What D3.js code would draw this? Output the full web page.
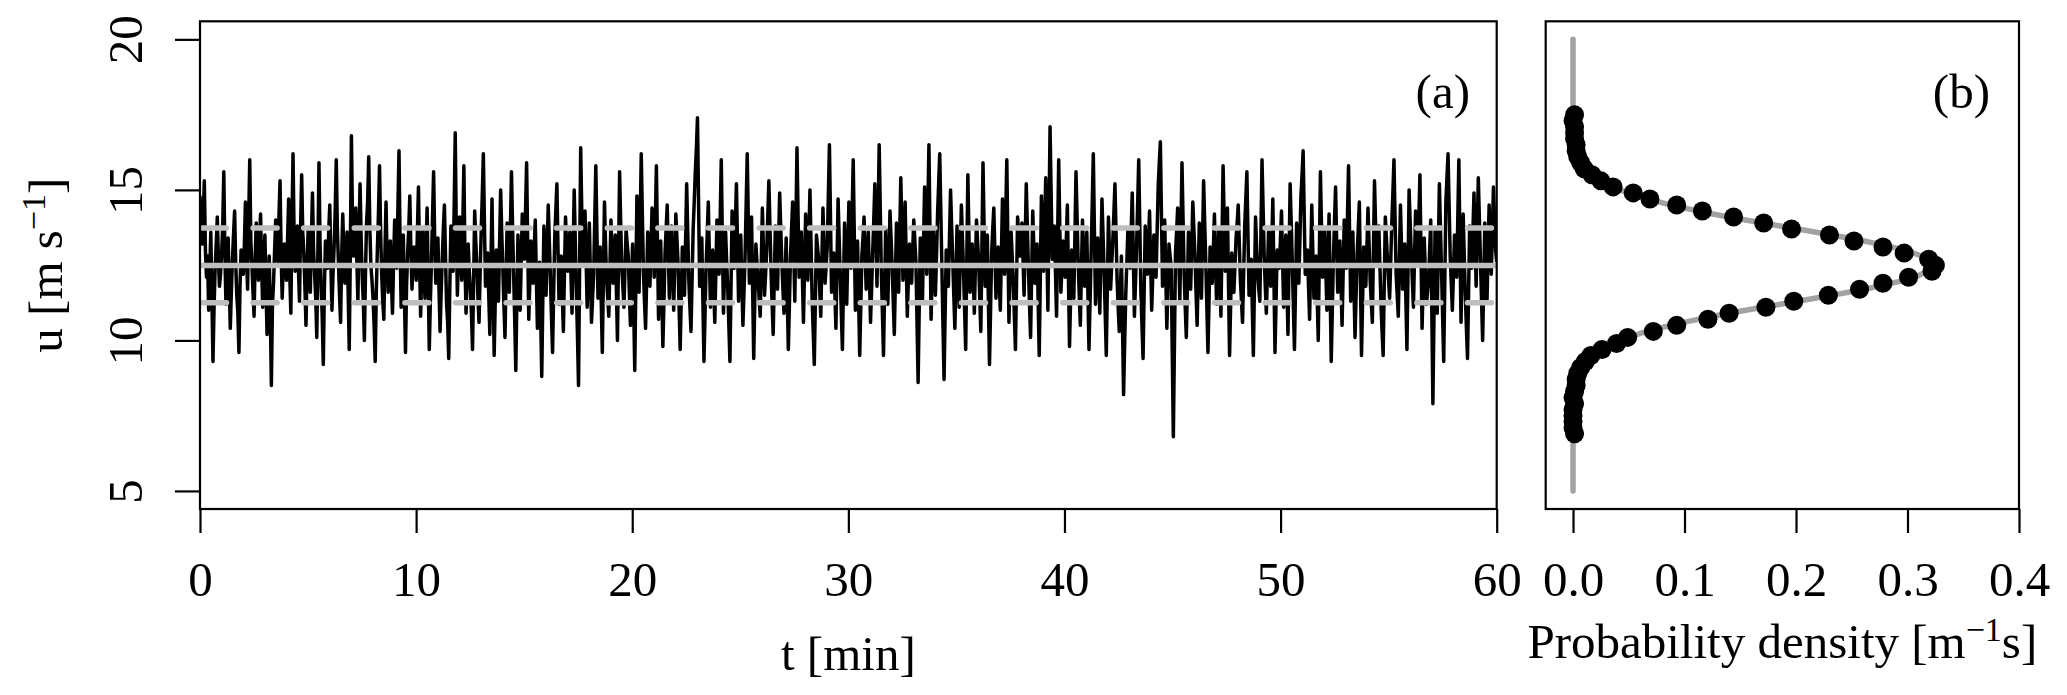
<!DOCTYPE html>
<html><head><meta charset="utf-8">
<script src="https://cdn.jsdelivr.net/npm/d3@7/dist/d3.min.js"></script>
<style>
body{margin:0;background:#fff}
svg text{font-family:"Liberation Serif","Times New Roman",serif;font-size:49px;fill:#000}
</style>
</head><body>
<svg id="chart" width="2067" height="695"></svg>
<script>
// ---- data ----
// wind speed u [m/s], 20 samples per minute, 0..60 min
const speed = [
14.8,13.9,13.2,14.1,15.3,13.0,12.1,12.8,11.0,12.3,13.6,11.4,9.3,11.1,12.4,13.2,14.1,12.7,11.8,12.2,
12.9,13.8,15.6,12.9,11.2,12.4,13.4,11.9,10.4,11.6,12.7,13.5,14.3,12.6,11.5,10.9,9.6,11.8,13.0,12.5,
12.2,13.1,14.6,12.8,11.7,14.0,16.0,13.3,12.5,11.6,10.8,12.7,13.9,12.9,12.0,13.3,14.2,12.4,11.1,12.6,
13.5,11.8,10.2,11.5,12.8,10.9,8.5,11.2,11.9,13.0,14.0,13.2,12.6,14.1,15.3,12.9,11.4,12.5,13.2,12.8,
12.0,13.4,14.7,12.2,10.9,13.8,16.2,13.5,12.3,12.9,13.8,12.4,11.3,13.7,15.5,13.6,12.9,11.8,10.5,12.3,
13.7,12.5,11.6,13.4,14.9,13.0,12.2,11.4,10.1,12.9,15.9,13.2,11.8,10.8,9.2,11.7,13.3,12.8,12.4,13.6,
14.5,12.6,11.0,12.2,13.1,14.3,16.0,13.7,12.6,11.5,10.6,12.8,14.2,12.9,11.9,12.7,13.6,11.6,9.7,12.9,
16.8,14.0,12.8,13.5,14.4,12.7,11.3,13.6,15.2,13.4,12.1,11.3,10.0,12.2,13.9,14.6,16.1,13.8,12.5,12.0,
11.4,10.5,9.3,11.6,13.0,14.2,15.8,13.6,12.2,11.3,10.7,12.9,14.6,12.8,11.6,12.5,13.3,11.9,10.9,12.6,
14.0,13.1,12.4,14.4,16.3,13.2,11.1,12.4,13.5,11.5,9.6,11.8,12.9,13.7,14.8,13.0,11.7,12.6,13.1,12.5,
12.0,13.6,15.1,12.7,10.8,12.3,13.7,12.5,11.4,13.0,14.4,12.0,9.7,11.3,12.6,14.1,15.6,13.4,11.9,12.8,
13.4,11.7,10.3,11.6,12.7,13.7,14.5,12.8,11.2,10.6,9.4,11.8,13.8,12.9,12.3,14.4,16.9,13.6,11.5,12.9,
14.1,13.0,12.0,13.9,15.8,12.6,10.9,12.1,13.2,12.3,11.7,10.9,9.7,12.0,14.3,13.3,12.5,11.4,10.6,12.2,
13.6,14.8,16.2,13.9,11.8,12.4,12.9,11.5,10.2,12.5,14.7,12.0,9.5,11.3,13.0,12.1,11.3,13.2,15.0,13.6,
12.4,11.2,10.1,12.1,13.9,12.7,11.6,13.7,15.6,13.8,12.2,10.7,9.0,11.4,13.5,12.2,11.0,12.6,14.2,13.4,
12.7,14.3,15.9,13.2,10.7,12.0,13.3,12.6,11.9,13.0,14.0,12.1,10.4,11.5,12.6,10.8,8.8,11.4,13.8,12.6,
11.5,13.0,14.5,13.3,12.1,10.8,9.6,11.6,13.4,14.3,15.2,13.1,11.2,12.0,12.8,11.5,10.3,12.3,14.1,13.1,
12.3,12.9,13.6,12.2,10.9,13.0,15.0,13.3,11.7,10.2,8.5,12.4,16.4,14.3,12.5,13.4,14.3,12.7,11.1,12.5,
13.9,12.2,10.6,11.4,12.2,14.0,15.8,13.6,11.4,12.3,13.1,11.3,9.6,12.1,14.6,13.2,12.0,11.4,10.8,12.4,
14.0,12.9,11.9,12.7,13.5,11.7,10.0,12.8,15.6,13.9,12.4,11.8,11.1,12.4,13.7,13.2,12.8,11.6,10.5,11.9,
13.2,11.1,9.0,11.9,14.8,13.2,11.6,13.9,16.2,14.2,12.3,11.3,10.4,12.0,13.6,12.7,11.8,13.1,14.4,13.2,
12.1,13.9,15.8,13.2,10.7,12.0,13.3,11.5,9.8,11.3,12.9,13.7,14.5,12.9,11.4,12.6,13.8,12.4,11.0,12.6,
14.2,13.4,12.6,11.1,9.7,11.4,13.1,12.3,11.5,13.3,15.2,13.6,12.0,11.1,10.3,12.0,13.7,14.6,15.6,16.4,
17.4,14.6,11.8,12.6,13.4,11.3,9.3,10.9,12.5,13.5,14.6,12.8,11.1,12.0,13.0,11.8,10.6,12.3,14.0,13.1,
12.2,14.1,16.0,13.4,10.9,12.2,13.6,12.6,11.7,10.5,9.3,11.8,14.3,13.3,12.4,13.8,15.2,13.2,11.3,12.4,
13.5,12.0,10.5,11.6,12.8,14.5,16.2,14.0,11.9,13.0,14.1,11.7,9.4,11.3,13.2,12.6,12.0,11.4,10.8,12.6,
14.4,13.0,11.5,12.2,13.0,14.1,15.3,13.8,12.3,11.2,10.2,12.0,13.8,12.7,11.7,13.3,14.9,13.7,12.6,11.7,
10.9,12.1,13.4,11.5,9.7,11.2,12.8,13.7,14.6,12.9,11.3,13.8,16.4,14.2,12.1,12.8,13.6,12.1,10.6,12.4,
14.2,13.1,12.0,13.5,15.0,13.2,11.4,10.3,9.2,11.3,13.5,13.1,12.7,11.7,10.8,12.6,14.4,13.1,11.9,12.5,
13.1,14.8,16.5,14.0,11.6,12.2,12.9,11.6,10.4,12.5,14.7,13.4,12.2,10.9,9.7,11.8,13.9,12.5,11.2,12.9,
14.6,13.5,12.4,14.2,16.0,13.5,11.0,12.1,13.3,11.4,9.5,11.1,12.8,13.4,14.1,12.9,11.7,12.6,13.6,12.1,
10.6,11.7,12.9,14.0,15.2,13.5,11.8,14.1,16.5,14.4,12.3,10.9,9.5,11.6,13.7,12.4,11.2,12.7,14.3,13.4,
12.5,11.3,10.2,12.0,13.9,12.7,11.6,13.5,15.4,13.7,12.0,13.3,14.6,12.7,10.8,12.0,13.2,12.5,11.9,13.0,
14.0,13.3,12.6,10.6,8.6,11.0,13.4,12.3,11.3,13.2,15.1,13.6,12.2,14.3,16.5,13.6,10.7,12.2,13.7,12.6,
11.5,12.8,14.2,15.2,16.2,14.3,12.4,10.5,8.7,10.9,13.0,12.4,11.8,13.4,15.0,13.8,12.7,11.5,10.4,12.1,
13.8,12.4,11.1,12.8,14.5,13.4,12.3,11.0,9.7,12.6,15.5,13.5,11.6,12.4,13.2,12.0,10.9,12.5,14.0,13.3,
12.6,11.4,10.3,13.1,15.9,13.8,11.8,12.6,13.5,11.3,9.2,11.0,12.9,13.7,14.4,12.9,11.4,12.3,13.1,12.0,
11.0,12.8,14.7,13.4,12.2,14.1,16.0,13.3,10.6,12.1,13.6,12.8,12.0,10.8,9.7,11.9,14.1,13.5,12.8,13.3,
13.9,12.7,11.5,13.3,15.2,13.8,12.4,11.2,10.1,12.2,14.3,13.1,11.9,12.5,13.2,11.3,9.5,12.1,14.8,13.5,
12.3,13.8,15.4,13.2,11.0,14.0,17.1,14.9,12.7,13.2,13.8,12.3,10.8,13.4,16.0,13.8,11.6,12.4,13.3,12.7,
12.1,13.3,14.5,12.1,9.8,11.4,13.0,12.2,11.4,13.5,15.6,14.1,12.6,11.5,10.5,12.3,14.0,12.9,11.8,12.7,
13.6,11.6,9.7,11.3,12.9,14.5,16.2,13.7,11.2,12.3,13.4,12.1,10.9,12.8,14.7,13.5,12.3,10.9,9.5,11.8,
14.1,12.9,11.7,12.5,13.3,14.2,15.2,13.6,12.0,11.1,10.3,11.6,12.8,10.5,8.2,9.9,11.5,12.6,13.7,13.0,
12.4,13.6,14.9,12.8,10.8,11.9,13.1,14.5,16.0,13.8,11.6,10.5,9.4,11.6,13.8,13.0,12.2,13.2,14.3,12.6,
11.0,12.2,13.5,12.8,12.1,13.6,15.1,15.9,16.6,14.2,11.8,12.9,14.0,12.2,10.4,11.8,13.2,12.8,12.5,9.6,
6.8,9.8,12.9,13.6,14.4,12.8,11.3,13.6,15.9,14.0,12.2,11.1,10.1,11.8,13.6,12.6,11.7,13.1,14.6,13.7,
12.8,11.6,10.5,12.2,13.9,12.6,11.4,13.3,15.3,13.9,12.6,11.1,9.6,11.3,13.1,12.5,11.9,13.0,14.2,12.7,
11.2,12.4,13.7,12.2,10.8,13.3,15.8,14.0,12.3,13.3,14.4,11.9,9.5,11.2,12.9,12.2,11.6,12.5,13.4,13.9,
14.5,13.2,12.0,11.3,10.6,12.2,13.8,14.7,15.6,13.5,11.5,12.1,12.7,11.1,9.5,11.8,14.1,13.1,12.2,11.7,
11.3,13.6,16.0,14.4,12.8,11.8,10.9,12.2,13.6,12.7,11.8,13.2,14.7,12.1,9.6,11.3,13.0,12.7,12.4,13.3,
14.3,12.7,11.1,12.3,13.5,11.8,10.2,12.7,15.2,13.9,12.6,11.1,9.7,11.8,13.9,12.9,11.9,13.3,14.8,15.5,
16.3,14.2,12.2,12.6,13.0,11.8,10.7,12.6,14.5,12.9,11.4,12.1,12.8,11.4,10.0,12.8,15.6,13.8,12.1,12.9,
13.7,12.3,11.0,12.6,14.2,11.7,9.3,11.0,12.7,13.9,15.1,13.3,11.6,12.4,13.3,11.9,10.5,12.2,14.0,13.2,
12.4,14.1,15.8,13.5,11.3,12.4,13.6,11.8,10.1,11.5,12.9,13.7,14.6,12.0,9.5,11.3,13.1,12.4,11.8,13.1,
14.4,13.2,12.0,11.3,10.6,12.9,15.3,13.9,12.5,13.1,13.8,12.5,11.2,10.3,9.5,11.8,14.1,13.4,12.7,12.0,
11.4,12.6,13.9,14.9,16.0,14.1,12.2,11.5,10.8,12.6,14.5,13.1,11.7,12.4,13.2,11.4,9.7,12.3,15.0,13.9,
12.9,12.0,11.1,12.7,14.3,13.4,12.6,14.0,15.5,12.9,10.4,11.9,13.4,12.3,11.2,11.6,12.0,13.0,14.0,11.0,
7.9,10.8,13.7,12.3,10.9,13.0,15.2,13.7,12.3,10.8,9.3,11.9,14.6,15.4,16.2,14.5,12.8,11.9,11.0,12.2,
13.5,12.8,12.1,14.0,16.0,13.3,10.6,12.4,14.2,12.8,11.5,10.4,9.4,11.6,13.8,13.1,12.4,13.6,14.9,13.3,
11.8,13.6,15.4,14.0,12.6,11.3,10.0,11.9,13.9,12.6,11.3,12.9,14.5,13.3,12.2,13.6,15.1,14.0,13.0,12.6
];
const meanSpeed = 12.49;
const sdSpeed = 1.24;

// empirical pdf (points), bin centres 6.9 ... 17.5 m/s
const binCentres = [6.9,7.1,7.3,7.5,7.7,7.9,8.1,8.3,8.5,8.7,8.9,9.1,9.3,9.5,9.7,9.9,10.1,10.3,10.5,10.7,10.9,11.1,11.3,11.5,11.7,11.9,12.1,12.3,12.5,12.7,12.9,13.1,13.3,13.5,13.7,13.9,14.1,14.3,14.5,14.7,14.9,15.1,15.3,15.5,15.7,15.9,16.1,16.3,16.5,16.7,16.9,17.1,17.3,17.5];
const pdfEmp = [0.0014,0,0,0,0,0.0014,0,0.0014,0.0028,0.0028,0.0042,0.0069,0.0111,0.016,0.026,0.039,0.049,0.072,0.093,0.121,0.140,0.173,0.198,0.229,0.257,0.278,0.301,0.322,0.325,0.319,0.297,0.278,0.252,0.230,0.196,0.171,0.144,0.116,0.093,0.069,0.054,0.036,0.025,0.017,0.010,0.0069,0.0042,0.0028,0.0028,0.0014,0.0014,0.0014,0,0.0014];

// fitted density curve (grey line), u = 5 ... 20 step 0.25
const curveU = [5,5.25,5.5,5.75,6,6.25,6.5,6.75,7,7.25,7.5,7.75,8,8.25,8.5,8.75,9,9.25,9.5,9.75,10,10.25,10.5,10.75,11,11.25,11.5,11.75,12,12.25,12.5,12.75,13,13.25,13.5,13.75,14,14.25,14.5,14.75,15,15.25,15.5,15.75,16,16.25,16.5,16.75,17,17.25,17.5,17.75,18,18.25,18.5,18.75,19,19.25,19.5,19.75,20];
const curvePdf = [0,0,0,0,0,0,0,0,0,0,0.0001,0.0002,0.0004,0.0009,0.0018,0.0033,0.0060,0.0104,0.0172,0.0275,0.0421,0.0620,0.0876,0.1188,0.1548,0.1936,0.2324,0.2679,0.2966,0.3152,0.3217,0.3152,0.2966,0.2679,0.2324,0.1936,0.1548,0.1188,0.0876,0.0620,0.0421,0.0275,0.0172,0.0104,0.0060,0.0033,0.0018,0.0009,0.0004,0.0002,0.0001,0,0,0,0,0,0,0,0,0,0];

const tTicks = [0,10,20,30,40,50,60];
const uTicks = [5,10,15,20];
const pTicks = [0,0.1,0.2,0.3,0.4];

// ---- drawing ----
const svg = d3.select("#chart");
const A = {l:200, r:1496.7, t:21.3, b:509};
const B = {l:1545.7, r:2019, t:21.3, b:509};

const x = d3.scaleLinear().domain([0,60]).range([A.l, A.r]);
const y = d3.scaleLinear().domain([4.4,20.6]).range([A.b, A.t]);
const xb = d3.scaleLinear().domain([-0.0245,0.4]).range([B.l, B.r]);

const defs = svg.append("defs");
defs.append("clipPath").attr("id","clipA").append("rect")
  .attr("x",A.l).attr("y",A.t).attr("width",A.r-A.l).attr("height",A.b-A.t);

// panel (a)
const gA = svg.append("g").attr("clip-path","url(#clipA)");
const times = speed.map((_, i) => i * 60 / (speed.length - 1));
gA.append("path")
  .attr("d", d3.line().x((d,i)=>x(times[i])).y(d=>y(d))(speed))
  .attr("fill","none").attr("stroke","#000").attr("stroke-width",3.5).attr("stroke-linejoin","round");

const refLines = [
  {v: meanSpeed, dash: null},
  {v: meanSpeed + sdSpeed, dash: "24 26.6"},
  {v: meanSpeed - sdSpeed, dash: "24 26.6"}
];
refLines.forEach(l => {
  gA.append("line").attr("x1",x(0)).attr("x2",x(60)).attr("y1",y(l.v)).attr("y2",y(l.v))
    .attr("stroke","#bebebe").attr("stroke-width",5.5).attr("stroke-linecap","round")
    .attr("stroke-dasharray", l.dash).attr("stroke-dashoffset", l.dash ? -2.5 : null);
});

svg.append("rect").attr("x",A.l).attr("y",A.t).attr("width",A.r-A.l).attr("height",A.b-A.t)
  .attr("fill","none").attr("stroke","#000").attr("stroke-width",2.2);

function styleAxis(g){
  g.attr("font-family",null).attr("font-size",null);
  g.select(".domain").remove();
  g.selectAll(".tick line").attr("stroke","#000").attr("stroke-width",2.2);
}

const axA = svg.append("g").attr("transform",`translate(0,${A.b})`)
  .call(d3.axisBottom(x).tickValues(tTicks).tickSize(24).tickFormat(d3.format("d")));
styleAxis(axA);
axA.selectAll("text").attr("y",87).attr("dy",null);

const axY = svg.append("g").attr("transform",`translate(${A.l},0)`)
  .call(d3.axisLeft(y).tickValues(uTicks).tickSize(25).tickFormat(d3.format("d")));
styleAxis(axY);
axY.selectAll("text").attr("x",null).attr("dy",null).attr("text-anchor","middle")
  .attr("transform","translate(-58,0) rotate(-90)");

svg.append("text").attr("x",x(30)).attr("y",670).attr("text-anchor","middle").text("t [min]");

const yl = svg.append("text").attr("text-anchor","middle")
  .attr("transform",`translate(62,${(A.t+A.b)/2}) rotate(-90)`);
yl.append("tspan").text("u [m s");
yl.append("tspan").attr("dy",-17).attr("font-size",34).text("\u22121");
yl.append("tspan").attr("dy",17).text("]");

svg.append("text").attr("x",1470).attr("y",108).attr("text-anchor","end").text("(a)");

// panel (b)
const gB = svg.append("g");
gB.append("path")
  .attr("d", d3.line().x((d,i)=>xb(curvePdf[i])).y(d=>y(d)).curve(d3.curveCatmullRom)(curveU))
  .attr("fill","none").attr("stroke","#a2a2a2").attr("stroke-width",5.5).attr("stroke-linecap","round");
gB.selectAll("circle").data(binCentres).join("circle")
  .attr("cx",(d,i)=>xb(pdfEmp[i])).attr("cy",d=>y(d)).attr("r",9.5).attr("fill","#000");

svg.append("rect").attr("x",B.l).attr("y",B.t).attr("width",B.r-B.l).attr("height",B.b-B.t)
  .attr("fill","none").attr("stroke","#000").attr("stroke-width",2.2);

const axB = svg.append("g").attr("transform",`translate(0,${B.b})`)
  .call(d3.axisBottom(xb).tickValues(pTicks).tickSize(24).tickFormat(d3.format(".1f")));
styleAxis(axB);
axB.selectAll("text").attr("y",87).attr("dy",null);

const xl = svg.append("text").attr("x",(B.l+B.r)/2).attr("y",658).attr("text-anchor","middle");
xl.append("tspan").text("Probability density [m");
xl.append("tspan").attr("dy",-17).attr("font-size",34).text("\u22121");
xl.append("tspan").attr("dy",17).text("s]");

svg.append("text").attr("x",1990).attr("y",108).attr("text-anchor","end").text("(b)");
</script>
</body></html>
